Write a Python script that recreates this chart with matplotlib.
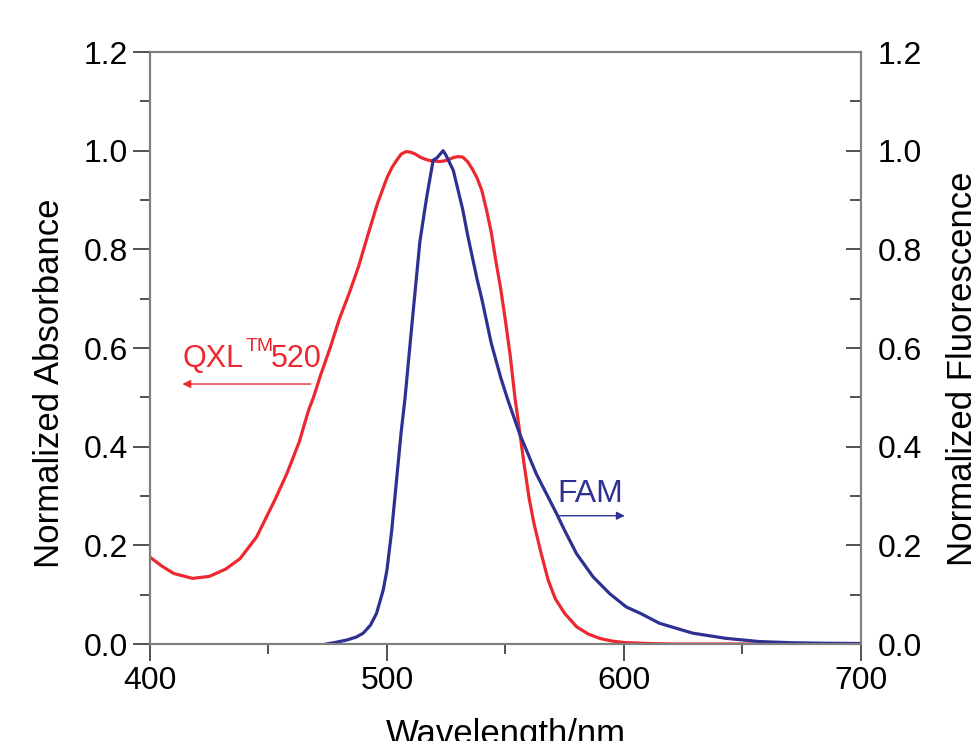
import matplotlib
matplotlib.use('Agg')
import matplotlib.pyplot as plt
from matplotlib.ticker import MultipleLocator

plt.rcParams['font.family'] = ['Liberation Sans', 'DejaVu Sans']

# QXL520 absorbance (left axis)
abs_wl = [400, 405, 410, 418, 425, 432, 438, 445, 449, 453, 458, 463, 467, 469,
          472, 476, 480, 484, 488, 492, 496, 500, 502, 504, 506, 508, 510, 512,
          514, 516, 518, 520, 522, 524, 526, 528, 530, 532, 534, 536, 538, 540,
          542, 544, 546, 548, 550, 552, 554, 556, 558, 560, 562, 565, 568, 571,
          575, 580, 585, 590, 595, 600, 610, 620, 650, 700]
abs_val = [0.176, 0.158, 0.143, 0.133, 0.137, 0.152, 0.173, 0.217, 0.256, 0.295,
           0.348, 0.41, 0.475, 0.50, 0.545, 0.60, 0.66, 0.71, 0.765, 0.83, 0.893,
           0.945, 0.965, 0.98, 0.993, 0.998, 0.997, 0.993, 0.987, 0.983, 0.98,
           0.979, 0.978, 0.979, 0.982, 0.986, 0.988, 0.987, 0.978, 0.963, 0.945,
           0.92, 0.88, 0.835, 0.775, 0.72, 0.655, 0.585, 0.50, 0.43, 0.36,
           0.295, 0.245, 0.185, 0.13, 0.092, 0.062, 0.035, 0.02, 0.011, 0.006,
           0.003, 0.001, 0.0, 0.0, 0.0]

# FAM fluorescence (right axis)
fl_wl = [474.5, 478, 483, 487, 490, 493, 495.6, 498.4, 500, 502, 504, 506, 507.6,
         510.4, 513.9, 516.7, 519.5, 521, 523.7, 525, 526, 528, 530, 532, 534,
         536, 538, 540, 542, 544, 546, 548, 551, 556, 563, 571.6, 575, 580, 587,
         594, 601, 607, 615, 629, 643, 657, 671, 685, 700]
fl_val = [0.0, 0.003, 0.008, 0.014, 0.022, 0.038, 0.062, 0.109, 0.15, 0.23, 0.33,
          0.43, 0.497, 0.641, 0.816, 0.904, 0.981, 0.985, 1.0, 0.99, 0.98, 0.96,
          0.92, 0.88, 0.83, 0.785, 0.74, 0.70, 0.655, 0.61, 0.575, 0.54, 0.495,
          0.426, 0.345, 0.264, 0.23, 0.183, 0.136, 0.102, 0.075, 0.062, 0.042,
          0.022, 0.0115, 0.005, 0.0025, 0.0015, 0.001]

red = '#ec2830'
blue = '#2e3192'
spine_c = '#808080'

fig = plt.figure(figsize=(9.77, 7.41), dpi=100)
ax = fig.add_axes([0.1535, 0.1309, 0.7277, 0.7989])
ax2 = ax.twinx()

ax.plot(abs_wl, abs_val, color=red, lw=2.3)
ax2.plot(fl_wl, fl_val, color=blue, lw=2.3)

ax.set_xlim(400, 700)
ax.set_ylim(0, 1.2)
ax2.set_ylim(0, 1.2)

for a in (ax, ax2):
    for s in a.spines.values():
        s.set_color(spine_c)
        s.set_linewidth(1.5)

ax.xaxis.set_major_locator(MultipleLocator(100))
ax.xaxis.set_minor_locator(MultipleLocator(50))
ax.yaxis.set_major_locator(MultipleLocator(0.2))
ax.yaxis.set_minor_locator(MultipleLocator(0.1))
ax2.yaxis.set_major_locator(MultipleLocator(0.2))
ax2.yaxis.set_minor_locator(MultipleLocator(0.1))
ax.yaxis.set_major_formatter(plt.FormatStrFormatter('%.1f'))
ax2.yaxis.set_major_formatter(plt.FormatStrFormatter('%.1f'))

ax.tick_params(axis='both', which='major', direction='out', length=12, width=1.2,
               color='#333333', labelsize=23, pad=4)
ax.tick_params(axis='both', which='minor', direction='out', length=7, width=1.2,
               color='#333333')
ax.tick_params(axis='y', right=False)
ax.tick_params(axis='x', top=False, which='both')
ax2.tick_params(axis='y', which='major', direction='in', length=11, width=1.2,
                color='#333333', labelsize=23, pad=12)
ax2.tick_params(axis='y', which='minor', direction='in', length=8, width=1.2,
                color='#333333')

ax.set_xlabel('Wavelength/nm', fontsize=25)
ax.set_ylabel('Normalized Absorbance', fontsize=25)
ax2.set_ylabel('Normalized Fluorescence', fontsize=25)
ax.xaxis.set_label_coords(0.5, -0.125)
ax.yaxis.set_label_coords(-0.118, 0.44)
ax2.yaxis.set_label_coords(1.119, 0.465)

# labels with arrows
ax.text(413.9, 0.562, 'QXL', color=red, fontsize=22)
ax.text(440.3, 0.594, 'TM', color=red, fontsize=14)
ax.text(451.0, 0.562, '520', color=red, fontsize=22)
ax.annotate('', xy=(412.5, 0.527), xytext=(469, 0.527),
            arrowprops=dict(arrowstyle='-|>', color=red, lw=1, mutation_scale=12))
ax.text(571.7, 0.287, 'FAM', color=blue, fontsize=23)
ax.annotate('', xy=(601.5, 0.26), xytext=(571, 0.26),
            arrowprops=dict(arrowstyle='-|>', color=blue, lw=1, mutation_scale=12))

fig.savefig('out.png', dpi=100)
